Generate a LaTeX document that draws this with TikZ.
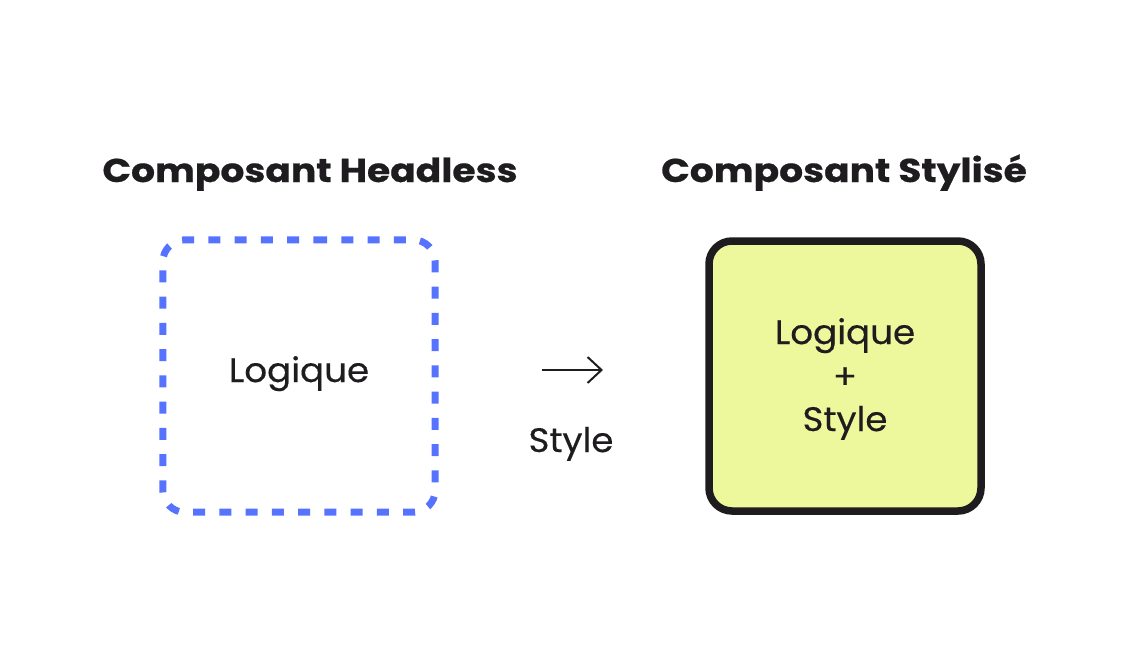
\documentclass[tikz,border=0pt]{standalone}
\usepackage{fontspec}
\setmainfont{Poppins}
\newfontfamily\titlefont[FakeStretch=1.14,FakeBold=0.6]{Poppins}
\newfontfamily\bodyfont[FakeStretch=1.05,FakeBold=0.35]{Poppins}
\usetikzlibrary{arrows.meta}
\definecolor{ink}{RGB}{30,28,30}
\definecolor{dashblue}{RGB}{86,115,255}
\definecolor{lime}{RGB}{237,248,156}
\tikzset{
  title/.style={font=\titlefont\bfseries\fontsize{33}{36}\selectfont, text=ink, inner sep=0, anchor=base},
  body/.style={font=\bodyfont\fontsize{34}{38}\selectfont, text=ink, inner sep=0, anchor=base},
  frame/.style={minimum width=272pt, minimum height=272pt, inner sep=0},
  headlessborder/.style={draw=dashblue, line width=7pt, dash pattern=on 12pt off 14.25pt, dash phase=6pt, rounded corners=22pt},
  styledbox/.style={frame, draw=ink, fill=lime, line width=7.5pt, rounded corners=23pt, minimum height=270pt},
  flow/.style={draw=ink, line width=2pt, -{Straight Barb[length=14pt,width=26pt,line width=2pt]}}
}
\begin{document}
\begin{tikzpicture}[x=1pt,y=-1pt]
\useasboundingbox (0,0) rectangle (1131,664);
\node[title] (t1) at (310,182) {Composant Headless};
\node[title] (t2) at (844,182) {Composant Stylisé};
\node[frame] (b1) at (299,376) {};
\draw[headlessborder] (b1.north) -- (b1.north east) -- (b1.south east) -- (b1.south west) -- (b1.north west) -- cycle;
\node[body] (l1) at (299,382) {Logique};
\node[styledbox] (b2) at (845,376) {};
\node[body] (l2) at (845,344) {Logique};
\node[body, anchor=center] (p2) at (845,378) {+};
\node[body] (s2) at (845,431) {Style};
\coordinate (a1) at (542,370);
\coordinate (a2) at (603,370);
\draw[flow] (a1) -- (a2);
\node[body] (s1) at (571,452) {Style};
\end{tikzpicture}
\end{document}
